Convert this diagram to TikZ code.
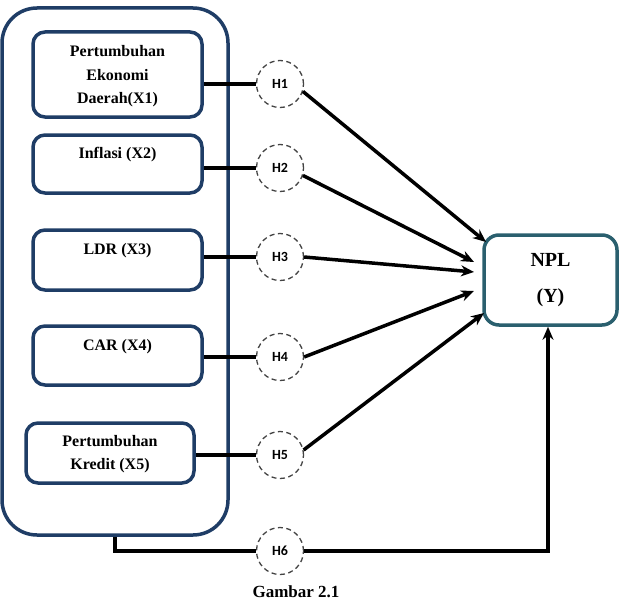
\documentclass[tikz,border=0pt]{standalone}
\usepackage{fontspec}
\setmainfont{Liberation Serif}[BoldFont={Liberation Serif Bold}]
\newfontfamily\tnr{Liberation Serif}[BoldFont={Liberation Serif Bold}]
\newfontfamily\hfont{Carlito}[BoldFont={Carlito Bold}]
\usetikzlibrary{arrows.meta}
\definecolor{boxblue}{HTML}{1F3D66}
\definecolor{nplteal}{HTML}{2A5F6E}
\definecolor{dashgray}{HTML}{444444}
\begin{document}
\begin{tikzpicture}[x=1pt,y=-1pt,
  varbox/.style={draw=boxblue,line width=3.5pt,rounded corners=12pt,minimum width=169pt,inner sep=0pt},
  vartext/.style={font=\tnr\bfseries\fontsize{16}{23.5}\selectfont,align=center,inner sep=0pt},
  hyp/.style={circle,draw=dashgray,dash pattern=on 5pt off 3.5pt,line width=1.3pt,minimum size=47pt,inner sep=0pt,font=\hfont\bfseries\fontsize{14}{16}\selectfont},
  link/.style={line width=3.5pt,black},
  arr/.style={line width=3.5pt,black,-{Stealth[length=13pt,width=11pt]}}]
\useasboundingbox (0,0) rectangle (620,602);

% group of independent variables
\node[draw=boxblue,line width=3.5pt,rounded corners=35pt,minimum width=226pt,minimum height=527pt] (grp) at (115,271.5) {};

\node[varbox,minimum height=85pt] (x1) at (117.5,74.5) {};
\node[vartext] at (117.5,76.5) {Pertumbuhan\\Ekonomi\\Daerah(X1)};
\node[varbox,minimum height=58pt] (x2) at (117.5,164) {};
\node[vartext] at (117.5,155) {Inflasi (X2)};
\node[varbox,minimum height=60pt] (x3) at (117.5,260) {};
\node[vartext] at (117.5,251) {LDR (X3)};
\node[varbox,minimum height=59pt] (x4) at (117.5,355.5) {};
\node[vartext] at (117.5,347) {CAR (X4)};
\node[varbox,minimum width=168pt,minimum height=60pt] (x5) at (110,453) {};
\node[vartext] at (110,454) {Pertumbuhan\\Kredit (X5)};

% dependent variable
\node[draw=nplteal,line width=3.5pt,rounded corners=15pt,minimum width=133pt,minimum height=90pt] (npl) at (550.5,280) {};
\node[font=\tnr\bfseries\fontsize{20}{36}\selectfont,align=center,inner sep=0pt] at (550.5,280) {NPL\\(Y)};

% hypotheses
\node[hyp] (h1) at (280,84) {H1};
\node[hyp] (h2) at (280,168) {H2};
\node[hyp] (h3) at (280,257) {H3};
\node[hyp] (h4) at (280,357) {H4};
\node[hyp] (h5) at (280,455) {H5};
\node[hyp] (h6) at (280,551) {H6};

\node[font=\tnr\bfseries\fontsize{17}{20}\selectfont,inner sep=0pt] (cap) at (296,592) {Gambar 2.1};

% arrow targets on the NPL box
\coordinate (t1) at (486,242);
\coordinate (t2) at (474,262);
\coordinate (t3) at (474,272);
\coordinate (t4) at (474,291);
\coordinate (t5) at (484,313);
\coordinate (g6) at (115,551);
\coordinate (c6) at (548,551);

\draw[link] (x1.east |- h1) -- (h1.west);
\draw[link] (x2.east |- h2) -- (h2.west);
\draw[link] (x3.east |- h3) -- (h3.west);
\draw[link] (x4.east |- h4) -- (h4.west);
\draw[link] (x5.east |- h5) -- (h5.west);

\draw[arr] (h1.-18) -- (t1);
\draw[arr] (h2.-18) -- (t2);
\draw[arr] (h3.east) -- (t3);
\draw[arr] (h4.east) -- (t4);
\draw[arr] (h5.12) -- (t5);

\draw[link] (grp.south -| g6) -- (g6) -- (h6.west);
\draw[arr] (h6.east) -- (c6) -- (npl.south -| c6);
\end{tikzpicture}
\end{document}
